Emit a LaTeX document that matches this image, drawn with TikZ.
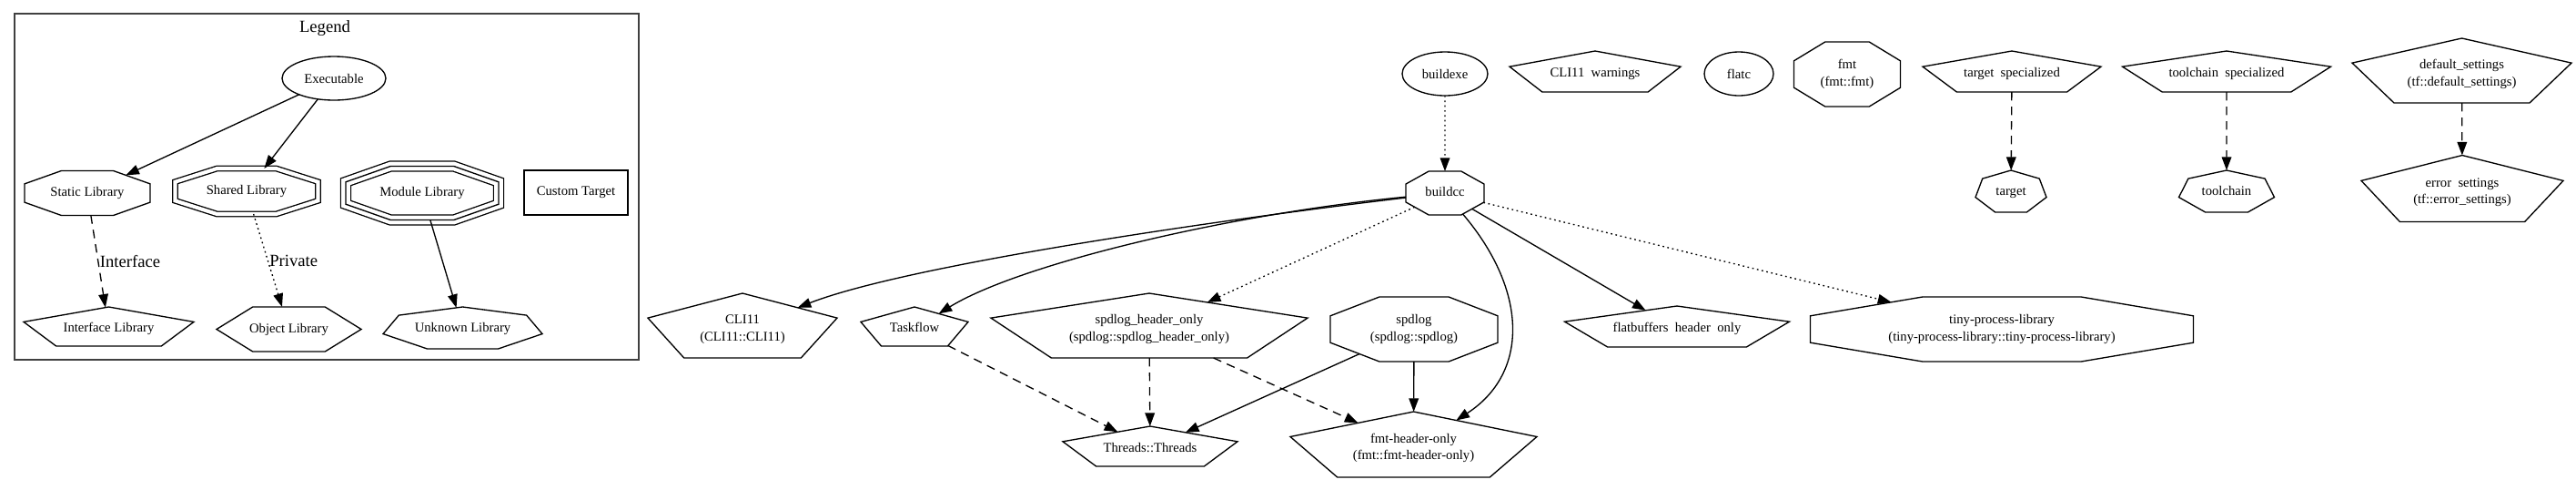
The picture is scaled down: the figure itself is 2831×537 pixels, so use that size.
\documentclass[tikz,border=0pt]{standalone}
\usepackage{fontspec}
\setmainfont{Liberation Serif}
\usepackage{graphicx}
\usetikzlibrary{shapes.geometric,arrows.meta}
\newcommand\px{*0.75pt}
\newcommand\gvfont{\fontsize{11}{14}\selectfont}
\newcommand\lblfont{\fontsize{14}{16}\selectfont}
\newcommand\gvgap{\hspace{0.5em}}
\newcommand\gvtext[1]{\begin{tabular}{@{}c@{}}#1\end{tabular}}
\newcommand\gvfactors[1]{\ifcase#1\or\or\or\or\or
  \def\gvfw{1.902}\def\gvfh{1.809}\def\gvoff{0.0528}\or
  \def\gvfw{2}\def\gvfh{1.732}\def\gvoff{0}\or
  \def\gvfw{1.950}\def\gvfh{1.901}\def\gvoff{0.026}\or
  \def\gvfw{1.848}\def\gvfh{1.848}\def\gvoff{0}\fi}
% #1 options, #2 name, #3 sides, #4 x, #5 y, #6 width, #7 height, #8 text
\newcommand\gvpoly[8][]{%
  \gvfactors{#3}%
  \pgfmathsetmacro\gvxs{#6*0.75/(\gvfw*20)}%
  \pgfmathsetmacro\gvys{#7*0.75/(\gvfh*20)}%
  \pgfmathsetmacro\gvixs{1/\gvxs}%
  \pgfmathsetmacro\gviys{1/\gvys}%
  \pgfmathsetmacro\gvcy{#5+\gvoff*#7}%
  \begin{scope}[shift={(#4,\gvcy)}]
    \node[gvpolybase, regular polygon sides=#3, xscale=\gvxs, yscale=\gvys, #1] (#2) at (0,0)
      {\scalebox{\gvixs}[\gviys]{\gvtext{#8}}};
  \end{scope}}
\begin{document}
\begin{tikzpicture}[x=0.75pt,y=-0.75pt,
  gvpolybase/.style={draw, regular polygon, minimum size=40pt, inner sep=0pt,
    outer sep=0pt, transform shape, line width=1pt, font=\gvfont},
  gvell/.style={draw, ellipse, inner sep=0pt, outer sep=0pt, line width=1pt, font=\gvfont},
  gvbox/.style={draw, rectangle, inner sep=0pt, outer sep=0pt, line width=0.9pt, font=\gvfont},
  gvedge/.style={line width=1pt, -{Triangle[length=11pt,width=8pt]}},
  gvdash/.style={dash pattern=on 7pt off 5pt},
  gvdot/.style={dash pattern=on 1.3pt off 2.7pt},
  gvlbl/.style={font=\lblfont, inner sep=1pt}]
\fill[white] (0,0) rectangle (2831,537);
\useasboundingbox (0,0) rectangle (2831,537);

% ---------------- Legend ----------------
\node[draw=black!75, line width=1pt, minimum width=686\px, minimum height=380\px,
  inner sep=0pt] (legendbox) at (359,205) {};
\node[font=\lblfont] (legendtitle) at (357,31) {Legend};
\node[gvell, minimum width=114\px, minimum height=48\px] (exe) at (367,86) {Executable};
\gvpoly{static}{8}{96}{212}{138}{49}{Static Library}
\gvpoly[double, double distance=3.1pt]{shared}{8}{271}{210}{157}{50}{Shared Library}
\gvpoly[preaction={draw, line width=9.2pt}, preaction={draw=white, line width=7.2pt}]{module}{8}{464}{212}{168}{59}{Module Library}
\node[gvbox, minimum width=114\px, minimum height=49\px] (custom) at (633,211.5) {Custom Target};
\gvpoly{iface}{5}{119.5}{358.5}{187}{43}{Interface Library}
\gvpoly{object}{6}{317.5}{361.5}{159}{49}{Object Library}
\gvpoly{unknown}{7}{508.5}{360}{175}{46}{Unknown Library}

\draw[gvedge] (exe) -- (static);
\draw[gvedge] (exe) -- (shared);
\draw[gvedge, gvdash] (static) -- node[gvlbl, pos=0.5, anchor=west] {Interface} (iface);
\draw[gvedge, gvdot] (shared) -- node[gvlbl, pos=0.5, anchor=west] {Private} (object);
\draw[gvedge] (module) -- (unknown);

% ---------------- Graph ----------------
\node[gvell, minimum width=94\px, minimum height=48\px] (buildexe) at (1588,81) {buildexe};
\gvpoly{cliwarn}{5}{1753}{78.5}{188}{45}{CLI11\gvgap warnings}
\node[gvell, minimum width=76\px, minimum height=48\px] (flatc) at (1911,81) {flatc};
\gvpoly{fmt}{8}{2030}{81.5}{117}{71}{fmt\\(fmt::fmt)}
\gvpoly{tspec}{5}{2211}{78.5}{196}{45}{target\gvgap specialized}
\gvpoly{tcspec}{5}{2447}{78.5}{229}{45}{toolchain\gvgap specialized}
\gvpoly{defset}{5}{2705.5}{77.5}{241}{71}{default\_settings\\(tf::default\_settings)}

\gvpoly{buildcc}{8}{1588}{212}{86}{48}{buildcc}
\gvpoly{target}{7}{2210}{210}{78}{46}{target}
\gvpoly{toolchain}{7}{2447}{210}{105}{46}{toolchain}
\gvpoly{errset}{5}{2706}{207}{222}{73}{error\gvgap settings\\(tf::error\_settings)}

\gvpoly{cli}{5}{816}{357.5}{208}{71}{CLI11\\(CLI11::CLI11)}
\gvpoly{taskflow}{5}{1005}{358.5}{118}{43}{Taskflow}
\gvpoly{spdho}{5}{1263}{357.5}{348}{71}{spdlog\_header\_only\\(spdlog::spdlog\_header\_only)}
\gvpoly{spdlog}{8}{1554}{361.5}{184}{71}{spdlog\\(spdlog::spdlog)}
\gvpoly{flatbuf}{5}{1843}{358.5}{247}{45}{flatbuffers\gvgap header\gvgap only}
\gvpoly{tiny}{8}{2200}{361.5}{421}{71}{tiny-process-library\\(tiny-process-library::tiny-process-library)}

\gvpoly{threads}{5}{1264}{490}{192}{44}{Threads::Threads}
\gvpoly{fmtho}{5}{1553.5}{488}{271}{72}{fmt-header-only\\(fmt::fmt-header-only)}

\draw[gvedge, gvdot] (buildexe) -- (buildcc);
\draw[gvedge, gvdash] (tspec) -- (target);
\draw[gvedge, gvdash] (tcspec) -- (toolchain);
\draw[gvedge, gvdash] (defset) -- (errset);
\draw[gvedge] (buildcc) .. controls (1350,240) and (1000,290) .. (cli);
\draw[gvedge] (buildcc) .. controls (1350,235) and (1120,290) .. (taskflow);
\draw[gvedge, gvdot] (buildcc) -- (spdho);
\draw[gvedge] (buildcc) .. controls (1680,320) and (1680,410) .. (fmtho);
\draw[gvedge] (buildcc) -- (flatbuf);
\draw[gvedge, gvdot] (buildcc) -- (tiny);
\draw[gvedge, gvdash] (taskflow) -- (threads);
\draw[gvedge, gvdash] (spdho) -- (threads);
\draw[gvedge, gvdash] (spdho) -- (fmtho);
\draw[gvedge] (spdlog) -- (threads);
\draw[gvedge] (spdlog) -- (fmtho);
\end{tikzpicture}
\end{document}
